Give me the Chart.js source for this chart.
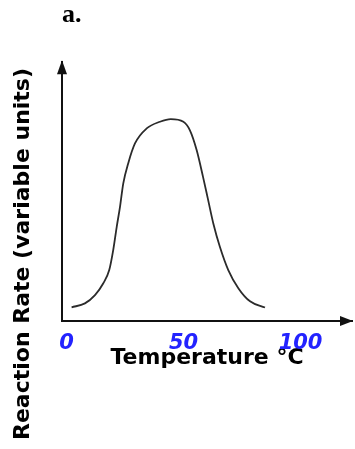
<!DOCTYPE html>
<html>
<head>
<meta charset="utf-8">
<script src="https://cdn.jsdelivr.net/npm/chart.js@4.4.0/dist/chart.umd.min.js"></script>
<style>
  html, body { margin: 0; padding: 0; background: #fff; }
  #wrap { width: 355px; height: 449px; }
</style>
</head>
<body>
<div id="wrap"><canvas id="chart-reaction-rate"></canvas></div>
<script>
// values (rate in arbitrary units, 0-100)
const temperatures = [2.1, 7.8, 12.1, 15.6, 18.2, 19.9, 21.4, 22.8, 24.2, 26.3, 29.2, 34.2, 39.9, 44.5,
  49.9, 52.7, 55.6, 58.3, 60.5, 62.7, 65.5, 69.1, 73.4, 78.4, 84.8];
const reactionRates = [5.3, 6.8, 10.0, 14.5, 19.7, 27.4, 36.4, 44.1, 53.2, 60.9, 68.6, 74.4, 77.0, 78.0,
  77.0, 73.7, 66.0, 55.7, 46.7, 37.7, 28.7, 19.7, 12.7, 7.6, 5.2];
const tickLabels = [0, 50, 100];

const ctx = document.getElementById("chart-reaction-rate");

// arrow heads at the ends of both axes
const axisArrows = {
  id: "axisArrows",
  afterDraw(chart) {
    const {ctx, chartArea} = chart;
    const x0 = chart.scales.y.right;
    const y0 = chart.scales.x.top;
    ctx.save();
    ctx.fillStyle = "#111";
    ctx.beginPath();
    ctx.moveTo(x0, chartArea.top - 2);
    ctx.lineTo(x0 - 5, chartArea.top + 12);
    ctx.lineTo(x0 + 5, chartArea.top + 12);
    ctx.closePath();
    ctx.fill();
    ctx.beginPath();
    ctx.moveTo(chartArea.right + 1, y0);
    ctx.lineTo(chartArea.right - 12, y0 - 5);
    ctx.lineTo(chartArea.right - 12, y0 + 5);
    ctx.closePath();
    ctx.fill();
    ctx.restore();
  },
};

new Chart(ctx, {
  type: "line",
  data: {
    datasets: [
      {
        data: temperatures.map((t, i) => ({x: t, y: reactionRates[i]})),
        borderColor: "#2b2b2b",
        borderWidth: 1.8,
        pointRadius: 0,
        cubicInterpolationMode: "monotone",
        fill: false,
      },
    ],
  },
  options: {
    responsive: true,
    maintainAspectRatio: false,
    animation: false,
    layout: {
      padding: {top: 0, right: 3, bottom: 9, left: 0},
    },
    plugins: {
      legend: {display: false},
      tooltip: {enabled: false},
      title: {
        display: true,
        text: "a.",
        align: "start",
        fullSize: false,
        color: "#000",
        font: {family: "Liberation Serif", size: 26, weight: "bold"},
        padding: {top: 0, bottom: 31},
      },
      subtitle: {
        display: true,
        text: "Reaction Rate (variable units)",
        position: "left",
        align: "start",
        color: "#000",
        font: {family: "DejaVu Sans", size: 22, weight: "bold"},
        padding: {top: 10, bottom: 0},
      },
    },
    scales: {
      x: {
        type: "linear",
        min: -2,
        max: 122,
        grid: {display: false},
        border: {color: "#111", width: 2},
        afterBuildTicks: (s) => {
          s.ticks = tickLabels.map((v) => ({value: v}));
        },
        afterFit: (s) => {
          s.height = 119;
        },
        ticks: {
          color: "#2323ff",
          font: {family: "DejaVu Sans", size: 21, weight: "bold", style: "italic"},
          padding: 2,
          maxRotation: 0,
          autoSkip: false,
        },
        title: {
          display: true,
          text: "Temperature °C",
          color: "#000",
          font: {family: "DejaVu Sans", size: 22, weight: "bold"},
          padding: {top: 0, bottom: 69},
        },
      },
      y: {
        min: 0,
        max: 100,
        grid: {display: false},
        border: {color: "#111", width: 2},
        ticks: {display: false},
        afterFit: (s) => {
          s.width = 25.6;
        },
      },
    },
  },
  plugins: [axisArrows],
});
</script>
</body>
</html>
